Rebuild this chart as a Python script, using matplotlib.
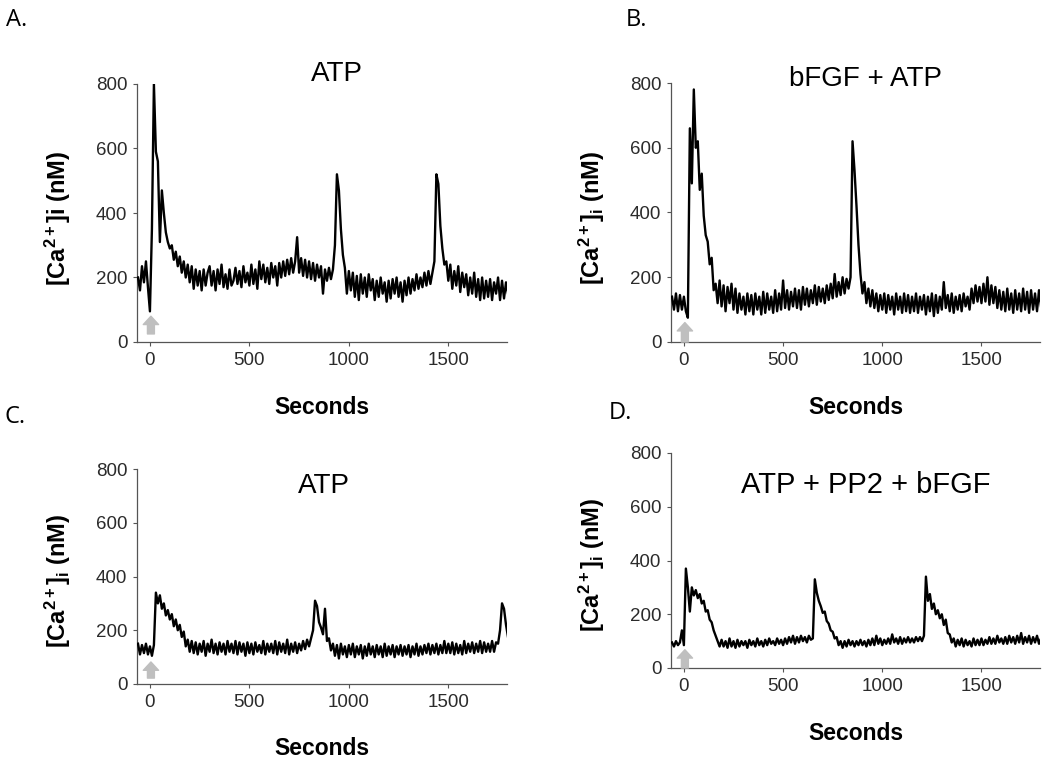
import numpy as np
import matplotlib
matplotlib.use("Agg")
import matplotlib.pyplot as plt

plt.rcParams['font.family'] = ['Liberation Sans', 'DejaVu Sans']
plt.rcParams['mathtext.fontset'] = 'custom'
plt.rcParams['mathtext.rm'] = 'Liberation Sans:bold'
plt.rcParams['mathtext.bf'] = 'Liberation Sans:bold'
plt.rcParams['mathtext.it'] = 'Liberation Sans:bold'

# [Ca2+]i traces (nM), one sample every 10 s from -60 s to 1800 s
ca_a = [
    200, 160, 235, 185, 250, 170,                       # -60..-10
    95, 350, 800, 590, 560, 310, 470, 400, 340, 310,    # 0..90
    290, 300, 255, 280, 235, 265, 215, 250, 200, 240,   # 100..190
    185, 235, 165, 225, 175, 220, 160, 225, 175, 215,   # 200..290
    235, 175, 220, 160, 225, 180, 240, 170, 210, 165,   # 300..390
    225, 175, 190, 230, 180, 220, 170, 235, 185, 215,   # 400..490
    175, 240, 180, 225, 165, 250, 195, 240, 185, 230,   # 500..590
    180, 245, 200, 235, 175, 245, 200, 250, 205, 255,   # 600..690
    210, 260, 215, 250, 325, 215, 260, 205, 255, 200,   # 700..790
    250, 195, 245, 190, 240, 200, 235, 150, 225, 190,   # 800..890
    230, 195, 225, 300, 520, 470, 350, 270, 230, 150,   # 900..990
    220, 160, 215, 140, 205, 130, 210, 150, 200, 140,   # 1000..1090
    210, 160, 195, 130, 190, 140, 200, 150, 185, 125,   # 1100..1190
    190, 135, 195, 150, 200, 140, 185, 125, 190, 145,   # 1200..1290
    200, 150, 195, 160, 210, 165, 200, 170, 215, 175,   # 1300..1390
    220, 180, 215, 250, 520, 490, 360, 290, 240, 250,   # 1400..1490
    190, 240, 165, 220, 175, 235, 155, 215, 170, 210,   # 1500..1590
    145, 200, 150, 215, 140, 195, 130, 200, 135, 190,   # 1600..1690
    140, 195, 130, 185, 150, 200, 130, 190, 135, 185,   # 1700..1790
    150,
]
ca_b = [
    140, 100, 150, 95, 145, 100,
    140, 95, 75, 660, 490, 780, 600, 620, 470, 520,
    390, 330, 310, 240, 260, 160, 180, 120, 190, 110,
    175, 95, 170, 120, 180, 100, 165, 90, 150, 100,
    140, 85, 150, 95, 145, 85, 150, 100, 140, 85,
    155, 90, 150, 100, 140, 90, 160, 95, 150, 100,
    190, 105, 160, 100, 155, 110, 165, 105, 160, 100,
    170, 115, 165, 110, 160, 120, 175, 115, 170, 125,
    165, 120, 175, 130, 180, 135, 210, 140, 185, 145,
    200, 150, 195, 165, 200, 620, 530, 420, 300, 210,
    150, 185, 120, 165, 110, 160, 105, 150, 95, 145,
    100, 150, 90, 145, 100, 140, 85, 150, 100, 140,
    90, 150, 95, 145, 90, 140, 95, 150, 90, 140,
    100, 145, 85, 140, 95, 150, 80, 145, 90, 140,
    100, 185, 105, 145, 95, 150, 90, 140, 100, 145,
    95, 150, 110, 140, 100, 165, 120, 175, 125, 170,
    120, 180, 125, 200, 115, 175, 120, 170, 105, 160,
    100, 155, 95, 165, 100, 150, 90, 160, 100, 150,
    95, 165, 100, 155, 90, 160, 100, 150, 95, 160,
    110,
]
ca_c = [
    150, 110, 145, 115, 150, 110,
    140, 105, 145, 340, 300, 330, 280, 300, 255, 275,
    240, 260, 215, 240, 200, 220, 175, 195, 140, 165,
    120, 160, 115, 155, 110, 150, 120, 160, 105, 150,
    120, 165, 115, 150, 110, 155, 120, 150, 110, 160,
    120, 150, 115, 160, 110, 155, 120, 150, 105, 155,
    115, 150, 110, 155, 120, 145, 115, 160, 110, 150,
    120, 150, 115, 160, 110, 155, 120, 150, 115, 165,
    110, 150, 120, 155, 115, 150, 125, 160, 130, 165,
    140, 170, 200, 310, 290, 230, 210, 185, 280, 160,
    170, 125, 150, 105, 145, 95, 150, 110, 140, 100,
    145, 110, 150, 100, 140, 110, 145, 95, 140, 105,
    150, 110, 140, 100, 145, 110, 140, 100, 150, 105,
    140, 110, 145, 100, 140, 110, 145, 105, 140, 110,
    145, 100, 140, 110, 150, 105, 140, 110, 145, 115,
    150, 110, 145, 115, 150, 110, 145, 115, 160, 115,
    150, 115, 155, 110, 150, 115, 145, 110, 160, 115,
    150, 120, 155, 115, 150, 120, 160, 115, 155, 120,
    150, 120, 160, 120, 155, 150, 200, 300, 280, 220,
    175,
]
ca_d = [
    95, 80, 100, 85, 95, 140,
    85, 370, 300, 210, 300, 270, 290, 260, 275, 240,
    250, 210, 215, 180, 170, 140, 120, 100, 80, 105,
    80, 100, 75, 110, 80, 100, 75, 105, 80, 100,
    85, 100, 75, 105, 85, 100, 80, 110, 85, 100,
    80, 105, 85, 110, 90, 100, 85, 110, 90, 105,
    85, 110, 90, 115, 95, 120, 90, 115, 95, 120,
    100, 115, 95, 120, 105, 110, 330, 280, 250, 230,
    205, 210, 175, 165, 140, 135, 110, 115, 85, 100,
    75, 100, 80, 105, 85, 100, 80, 100, 85, 105,
    85, 100, 80, 105, 85, 110, 85, 120, 90, 110,
    85, 105, 90, 110, 90, 125, 95, 110, 90, 115,
    90, 110, 95, 115, 95, 110, 95, 115, 100, 115,
    100, 120, 340, 250, 275, 220, 240, 200, 215, 185,
    200, 160, 180, 130, 125, 95, 110, 80, 105, 85,
    110, 80, 105, 85, 100, 80, 110, 85, 105, 85,
    110, 85, 105, 90, 115, 90, 110, 90, 120, 95,
    110, 90, 115, 90, 120, 95, 115, 90, 120, 95,
    130, 90, 115, 95, 120, 90, 115, 95, 120, 90,
    110,
]

traces = [ca_a, ca_b, ca_c, ca_d]
letters = ["A.", "B.", "C.", "D."]
titles = ["ATP", "bFGF + ATP", "ATP", "ATP + PP2 + bFGF"]
ylabels = [r"[Ca$^{2+}$]i (nM)", r"[Ca$^{2+}$]$_{i}$ (nM)",
           r"[Ca$^{2+}$]$_{i}$ (nM)", r"[Ca$^{2+}$]$_{i}$ (nM)"]
xticks = [0, 500, 1000, 1500]
yticks = [0, 200, 400, 600, 800]
atp_time = 5  # grey arrow: time of ATP addition

W, H = 1050, 763
fig = plt.figure(figsize=(W / 100, H / 100), dpi=100)

# axes boxes in pixels: left, right, top, bottom
boxes = [(137, 507, 84, 342), (671, 1040, 83, 342),
         (137, 507, 469, 684), (671, 1040, 453, 668)]
title_pos = [(0.54, 1.04), (0.526, 1.015), (0.505, 0.92), (0.528, 0.85)]
title_size = [20, 20, 20, 21]
letter_pos = [(6, 20), (626, 20), (4, 417), (609, 413)]
xlabel_y = [-0.208, -0.208, -0.245, -0.25]
arrow_y = [(25, 80), (0, 60), (22, 82), (0, 68)]

for i, vals in enumerate(traces):
    l, r, t, b = boxes[i]
    ax = fig.add_axes([l / W, 1 - b / H, (r - l) / W, (b - t) / H])
    time = np.arange(len(vals)) * 10 - 60

    ax.annotate("", xy=(atp_time, arrow_y[i][1]), xytext=(atp_time, arrow_y[i][0]),
                arrowprops=dict(facecolor="#bfbfbf", edgecolor="#bfbfbf",
                                width=5, headwidth=11, headlength=6, shrink=0))
    ax.plot(time, vals, color="black", linewidth=1.7, zorder=3)

    ax.set_xlim(-65, 1795)
    ax.set_ylim(0, 800)
    ax.set_xticks(xticks)
    ax.set_yticks(yticks)
    for s in ["top", "right"]:
        ax.spines[s].set_visible(False)
    for s in ["left", "bottom"]:
        ax.spines[s].set_color("#555555")
        ax.spines[s].set_linewidth(0.9)
    ax.tick_params(length=3, width=0.8, color="#555555", labelsize=13.5,
                   labelcolor="#2b2b2b", pad=4)

    ax.text(title_pos[i][0], title_pos[i][1], titles[i], transform=ax.transAxes,
            ha="center", va="center", fontsize=title_size[i])
    ax.set_xlabel("Seconds", fontsize=16.5, fontweight="bold")
    ax.xaxis.set_label_coords(0.5, xlabel_y[i])
    ax.text(-0.215, 0.48, ylabels[i], transform=ax.transAxes, rotation=90,
            ha="center", va="center", fontsize=17, fontweight="bold")

    fig.text(letter_pos[i][0] / W, 1 - letter_pos[i][1] / H, letters[i],
             fontsize=17, family="Open Sans", ha="left", va="center")

fig.savefig("out.png", dpi=100)
